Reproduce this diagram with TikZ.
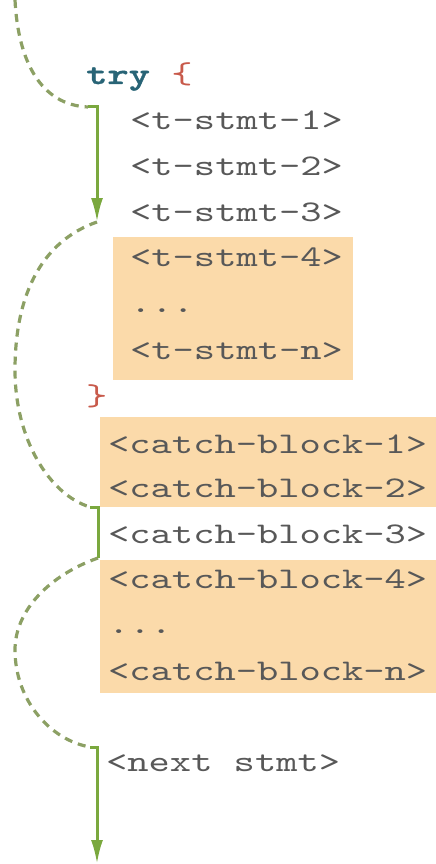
\documentclass[tikz,border=0pt]{standalone}
\usepackage{fontspec}
\newfontfamily\codefont{lmmono10-regular.otf}[FakeStretch=1.35, BoldFont=lmmonolt10-bold.otf, BoldFeatures={FakeStretch=1.35, FakeBold=1.2}]
\usetikzlibrary{arrows.meta}
\definecolor{hilite}{RGB}{251,218,170}
\definecolor{codegray}{RGB}{88,88,88}
\definecolor{kwteal}{RGB}{40,100,118}
\definecolor{bracered}{RGB}{200,90,75}
\definecolor{flowgreen}{RGB}{122,168,62}
\definecolor{dashgreen}{RGB}{140,160,100}
\tikzset{
  code/.style={anchor=base west, inner sep=0pt, text=codegray,
    font=\codefont\fontsize{30}{30}\selectfont},
  kw/.style={code, text=kwteal, font=\codefont\bfseries\fontsize{30}{30}\selectfont},
  hlbox/.style={fill=hilite, draw=none},
  flow/.style={draw=flowgreen, line width=3pt, line join=miter},
  flowarrow/.style={flow, -{Latex[length=24pt,width=12pt]}},
  jump/.style={draw=dashgreen, line width=3.2pt, dash pattern=on 8pt off 6pt}
}
\begin{document}
\begin{tikzpicture}[x=1pt,y=-1pt]
\useasboundingbox (0,0) rectangle (436,864);
% highlight boxes
\fill[hlbox] (113,237) rectangle (353,380);
\fill[hlbox] (100,417) rectangle (436,507);
\fill[hlbox] (100,560) rectangle (436,693);
% code text
\node[kw] (try) at (86,84) {try \textcolor{bracered}{\mdseries\{}};
\node[code] (t1) at (130,130) {<t-stmt-1>};
\node[code] (t2) at (130,175) {<t-stmt-2>};
\node[code] (t3) at (130,221) {<t-stmt-3>};
\node[code] (t4) at (130,266) {<t-stmt-4>};
\node[code] (tdots) at (130,312) {...};
\node[code] (tn) at (130,359) {<t-stmt-n>};
\node[code, text=bracered] (close) at (86,405) {\}};
\node[code] (cb1) at (108,453) {<catch-block-1>};
\node[code] (cb2) at (108,497) {<catch-block-2>};
\node[code] (cb3) at (108,543) {<catch-block-3>};
\node[code] (cb4) at (108,588) {<catch-block-4>};
\node[code] (cbdots) at (108,633) {...};
\node[code] (cbn) at (108,680) {<catch-block-n>};
\node[code] (next) at (106,771) {<next stmt>};
% flow coordinates
\coordinate (start) at (15,0);
\coordinate (in1) at (88,107);
\coordinate (c1) at (97,107);
\coordinate (e1) at (97,222);
\coordinate (in2) at (90,507);
\coordinate (c2) at (98,507);
\coordinate (e2) at (98,558);
\coordinate (in3) at (90,747);
\coordinate (c3) at (97,747);
\coordinate (e3) at (97,864);
% jumps (dashed)
\draw[jump] (start) .. controls (18,60) and (40,105) .. (in1);
\draw[jump] (e1) .. controls (45,240) and (15,290) .. (15,370)
  .. controls (15,440) and (50,495) .. (in2);
\draw[jump] (e2) .. controls (50,575) and (15,610) .. (15,650)
  .. controls (15,700) and (50,740) .. (in3);
% executed flow (solid)
\draw[flowarrow] (in1) -- (c1) -- (e1);
\draw[flow] (in2) -- (c2) -- (e2);
\draw[flowarrow] (in3) -- (c3) -- (e3);
\end{tikzpicture}
\end{document}
